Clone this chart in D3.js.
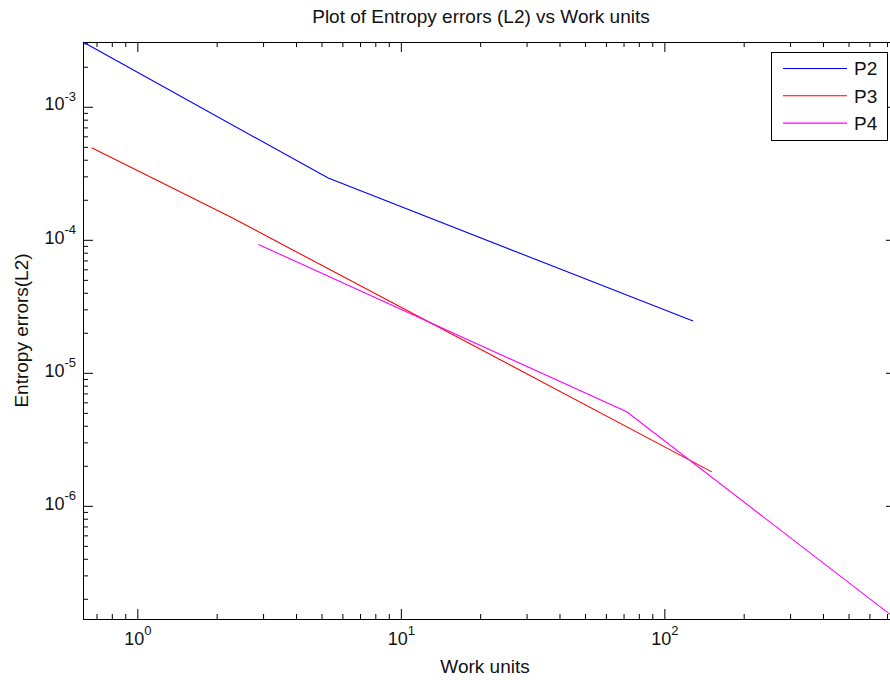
<!DOCTYPE html>
<html>
<head>
<meta charset="utf-8">
<script src="https://cdn.jsdelivr.net/npm/d3@7"></script>
<style>
  body { margin: 0; background: #fff; }
  svg { display: block; font-family: "Liberation Sans", Arial, sans-serif; }
</style>
</head>
<body>
<div id="chart"></div>
<script>
// axis limits (tight to the data) and labelled decades
const xLimits = [0.622, 757];
const yLimits = [1.41e-7, 3.07e-3];
const xMajor = [1, 10, 100];
const yMajor = [1e-6, 1e-5, 1e-4, 1e-3];

// series
const seriesNames = ['P2', 'P3', 'P4'];
const workP2 = [0.622, 5.3, 128.5];
const errP2 = [3.07e-3, 2.91e-4, 2.45e-5];
const workP3 = [0.671, 2.25, 151.4];
const errP3 = [4.92e-4, 1.49e-4, 1.80e-6];
const workP4 = [2.88, 72.0, 757];
const errP4 = [9.23e-5, 5.09e-6, 1.41e-7];

const COLORS = ['#0000ff', '#ff0000', '#ff00ff'];
const WIDTH = 890;
const HEIGHT = 680;
const margin = { top: 42, right: -6, bottom: 61, left: 83 };

const series = [
  { name: seriesNames[0], work: workP2, err: errP2 },
  { name: seriesNames[1], work: workP3, err: errP3 },
  { name: seriesNames[2], work: workP4, err: errP4 },
];

const svg = d3.select('#chart')
  .append('svg')
  .attr('width', WIDTH)
  .attr('height', HEIGHT);

const x = d3.scaleLog()
  .domain(xLimits)
  .range([margin.left, WIDTH - margin.right]);

const y = d3.scaleLog()
  .domain(yLimits)
  .range([HEIGHT - margin.bottom, margin.top]);

const xMinor = x.ticks().filter(d => !xMajor.some(m => Math.abs(m - d) < 1e-9 * m));
const yMinor = y.ticks().filter(d => !yMajor.some(m => Math.abs(m - d) < 1e-9 * m));

const MAJOR = 10;
const MINOR = 5;

// power-of-ten label: "10" with a raised exponent
function powerLabel(text) {
  text.each(function (d) {
    const t = d3.select(this).text(null);
    t.append('tspan').attr('font-size', 18).text('10');
    t.append('tspan')
      .attr('font-size', 13)
      .attr('dy', '-0.75em')
      .text(Math.round(Math.log10(d)));
  });
}

function addAxis(axis, transform, labels) {
  const g = svg.append('g')
    .attr('transform', transform)
    .call(axis);
  g.select('.domain').attr('stroke', '#000');
  g.selectAll('.tick line').attr('stroke', '#000');
  g.selectAll('.tick text').attr('fill', '#111');
  if (labels) g.selectAll('.tick text').call(powerLabel);
  else g.selectAll('.tick text').remove();
  return g;
}

const bottomY = HEIGHT - margin.bottom;
const topY = margin.top;
const leftX = margin.left;
const rightX = WIDTH - margin.right;

// bottom axis, ticks pointing into the plot
addAxis(d3.axisBottom(x).tickValues(xMajor).tickSizeInner(-MAJOR).tickSizeOuter(0)
  .tickPadding(19).tickFormat(() => ''), `translate(0,${bottomY})`, true);
addAxis(d3.axisBottom(x).tickValues(xMinor).tickSizeInner(-MINOR).tickSizeOuter(0)
  .tickFormat(() => ''), `translate(0,${bottomY})`, false);
// top axis
addAxis(d3.axisTop(x).tickValues(xMajor).tickSizeInner(-MAJOR).tickSizeOuter(0),
  `translate(0,${topY})`, false);
addAxis(d3.axisTop(x).tickValues(xMinor).tickSizeInner(-MINOR).tickSizeOuter(0),
  `translate(0,${topY})`, false);
// left axis
addAxis(d3.axisLeft(y).tickValues(yMajor).tickSizeInner(-MAJOR).tickSizeOuter(0)
  .tickPadding(7).tickFormat(() => ''), `translate(${leftX},0)`, true);
addAxis(d3.axisLeft(y).tickValues(yMinor).tickSizeInner(-MINOR).tickSizeOuter(0)
  .tickFormat(() => ''), `translate(${leftX},0)`, false);
// right axis
addAxis(d3.axisRight(y).tickValues(yMajor).tickSizeInner(-MAJOR).tickSizeOuter(0),
  `translate(${rightX},0)`, false);
addAxis(d3.axisRight(y).tickValues(yMinor).tickSizeInner(-MINOR).tickSizeOuter(0),
  `translate(${rightX},0)`, false);

svg.selectAll('.tick text').attr('font-family', '"Liberation Sans", Arial, sans-serif');

// data lines
const line = d3.line()
  .x(d => x(d[0]))
  .y(d => y(d[1]));

series.forEach((s, i) => {
  svg.append('path')
    .datum(d3.zip(s.work, s.err))
    .attr('fill', 'none')
    .attr('stroke', COLORS[i])
    .attr('stroke-width', 1.1)
    .attr('d', line);
});

// titles
svg.append('text')
  .attr('x', 481)
  .attr('y', 23)
  .attr('text-anchor', 'middle')
  .attr('font-size', 19)
  .attr('fill', '#111')
  .text('Plot of Entropy errors (L2) vs Work units');

svg.append('text')
  .attr('x', 485)
  .attr('y', 673)
  .attr('text-anchor', 'middle')
  .attr('font-size', 19)
  .attr('fill', '#111')
  .text('Work units');

svg.append('text')
  .attr('transform', `translate(28,${(topY + bottomY) / 2}) rotate(-90)`)
  .attr('text-anchor', 'middle')
  .attr('font-size', 19)
  .attr('fill', '#111')
  .text('Entropy errors(L2)');

// legend
const legend = svg.append('g').attr('transform', 'translate(771,52)');
legend.append('rect')
  .attr('x', 0.5)
  .attr('y', 0.5)
  .attr('width', 116)
  .attr('height', 88)
  .attr('fill', '#fff')
  .attr('stroke', '#000');

series.forEach((s, i) => {
  const rowY = 16.5 + i * 27.3;
  legend.append('line')
    .attr('x1', 12)
    .attr('x2', 76)
    .attr('y1', rowY)
    .attr('y2', rowY)
    .attr('stroke', COLORS[i])
    .attr('stroke-width', 1.1);
  legend.append('text')
    .attr('x', 83)
    .attr('y', rowY)
    .attr('dy', '0.36em')
    .attr('font-size', 19)
    .attr('fill', '#111')
    .text(s.name);
});
</script>
</body>
</html>
